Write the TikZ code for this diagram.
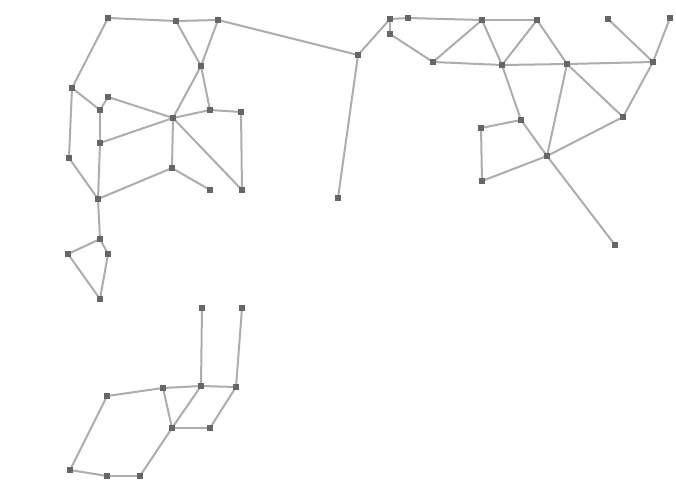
\documentclass[tikz,border=0pt]{standalone}
\usetikzlibrary{backgrounds}
\begin{document}
\begin{tikzpicture}[x=1pt,y=-1pt,
  vtx/.style={rectangle,fill=black!60,draw=none,minimum size=6pt,inner sep=0pt},
  lnk/.style={draw=black!32,line width=2pt}]
\useasboundingbox (0,0) rectangle (676,485);
\foreach \n/\x/\y in {A/108/18,B/176/21,C/218/20,D/201/66,E/72/88,F/108/97,G/100/110,H/173/118,I/210/110,J/241/112,K/100/143,L/69/158,M/172/168,N/210/190,O/242/190,P/98/199,Q/358/55,R/390/19,RR/390/34,S/408/18,T/433/62,U/482/20,V/338/198,Y/537/20,Z/502/65,AA/567/64,AB/608/19,AC/670/18,AD/653/62,AE/521/120,W/481/128,AF/623/117,AG/547/156,X/482/181,AH/615/245,AI/100/239,AJ/68/254,AK/108/254,AL/100/299,AM/202/308,AN/242/308,AO/107/396,AP/163/388,AQ/201/386,AR/236/387,AS/172/428,AT/210/428,AU/70/470,AV/107/476,AW/140/476}
  {\node[vtx] (\n) at (\x,\y) {};}
\begin{scope}[on background layer]
\fill[white] (0,0) rectangle (676,485);
\foreach \a/\b in {A/B,B/C,C/Q,B/D,C/D,A/E,D/H,D/I,E/G,F/G,F/H,G/K,K/P,K/H,E/L,L/P,P/M,H/M,H/I,I/J,H/O,M/N,J/O,
  Q/R,Q/V,R/RR,RR/T,R/S,S/U,T/U,T/Z,Z/AA,AA/AD,U/Y,U/Z,Z/Y,Y/AA,Z/AE,AE/AG,AA/AG,AA/AF,AD/AF,AB/AD,AC/AD,AF/AG,AG/AH,W/AE,W/X,X/AG,
  P/AI,AI/AJ,AI/AK,AJ/AL,AK/AL,
  AM/AQ,AN/AR,AO/AP,AP/AQ,AQ/AR,AP/AS,AQ/AS,AR/AT,AS/AT,AO/AU,AU/AV,AV/AW,AW/AS}
  {\draw[lnk] (\a.center) -- (\b.center);}
\end{scope}
\end{tikzpicture}
\end{document}
